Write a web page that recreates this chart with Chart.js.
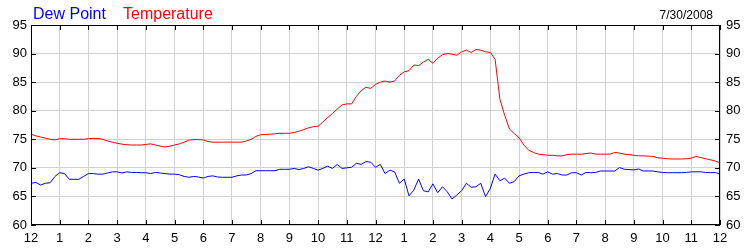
<!DOCTYPE html>
<html>
<head>
<meta charset="utf-8">
<script src="https://cdn.jsdelivr.net/npm/chart.js@4/dist/chart.umd.min.js"></script>
<style>
  body { margin: 0; background: #fff; }
  canvas { display: block; }
</style>
</head>
<body>
<canvas id="chart" width="750" height="250"></canvas>
<script>
// hour labels along the bottom (midnight to midnight)
const hourLabels = ["12", "1", "2", "3", "4", "5", "6", "7", "8", "9", "10", "11",
  "12", "1", "2", "3", "4", "5", "6", "7", "8", "9", "10", "11", "12"];
const yTicks = [60, 65, 70, 75, 80, 85, 90, 95];

// sample times, minutes after midnight
const minutes = [
  0, 10, 20, 30, 40, 50, 60, 70, 80, 90, 100, 110,
  120, 130, 140, 150, 160, 170, 180, 190, 200, 210, 220, 230,
  240, 250, 260, 270, 280, 290, 300, 310, 320, 330, 340, 350,
  360, 370, 380, 390, 400, 410, 420, 430, 440, 450, 460, 470,
  480, 490, 500, 510, 520, 530, 540, 550, 560, 570, 580, 590,
  600, 610, 620, 630, 640, 650, 660, 670, 680, 690, 700, 710,
  720, 730, 740, 750, 760, 770, 780, 790, 800, 810, 820, 830,
  840, 850, 860, 870, 880, 890, 900, 910, 920, 930, 940, 950,
  960, 970, 980, 990, 1000, 1010, 1020, 1030, 1040, 1050, 1060, 1070,
  1080, 1090, 1100, 1110, 1120, 1130, 1140, 1150, 1160, 1170, 1180, 1190,
  1200, 1210, 1220, 1230, 1240, 1250, 1260, 1270, 1280, 1290, 1300, 1310,
  1320, 1330, 1340, 1350, 1360, 1370, 1380, 1390, 1400, 1410, 1420, 1430,
  1440
];

const temperature = [
  75.9, 75.6, 75.4, 75.2, 75.0, 74.9,
  75.1, 75.1, 75.0, 75.0, 75.0, 75.0,
  75.1, 75.15, 75.15, 75.0, 74.7, 74.5,
  74.3, 74.15, 74.05, 74.0, 74.0, 74.0,
  74.1, 74.2, 74.0, 73.8, 73.65, 73.8,
  74.0, 74.2, 74.5, 74.85, 74.95, 74.95,
  74.9, 74.6, 74.5, 74.5, 74.5, 74.5,
  74.5, 74.5, 74.5, 74.7, 75.0, 75.5,
  75.8, 75.85, 75.9, 75.95, 76.05, 76.05,
  76.05, 76.2, 76.4, 76.7, 77.0, 77.2,
  77.3, 78.0, 78.8, 79.5, 80.3, 81.0,
  81.2, 81.2, 82.5, 83.5, 84.1, 83.9,
  84.6, 85.0, 85.2, 85.0, 85.2, 86.2,
  86.8, 87.0, 88.0, 87.9, 88.5, 89.0,
  88.3, 89.2, 89.8, 90.0, 89.9, 89.7,
  90.3, 90.6, 90.2, 90.7, 90.6, 90.3,
  90.2, 89.0, 82.0, 79.2, 76.8, 76.0,
  75.3, 74.0, 73.1, 72.7, 72.4, 72.3,
  72.2, 72.2, 72.1, 72.1, 72.3, 72.4,
  72.4, 72.4, 72.5, 72.6, 72.4, 72.4,
  72.4, 72.4, 72.7, 72.6, 72.4, 72.3,
  72.2, 72.1, 72.1, 72.05, 72.0, 71.75,
  71.7, 71.6, 71.55, 71.55, 71.55, 71.6,
  71.7, 72.0, 71.8, 71.6, 71.4, 71.2,
  70.9
];

const dewPoint = [
  67.3, 67.45, 67.0, 67.3, 67.4, 68.5,
  69.15, 69.0, 68.0, 68.0, 68.0, 68.5,
  69.0, 69.0, 68.9, 68.9, 69.1, 69.3,
  69.3, 69.1, 69.3, 69.2, 69.2, 69.15,
  69.15, 69.0, 69.2, 69.1, 69.0, 68.9,
  68.9, 68.8, 68.5, 68.35, 68.5, 68.4,
  68.2, 68.5, 68.6, 68.4, 68.35, 68.35,
  68.35, 68.6, 68.75, 68.75, 69.0, 69.5,
  69.5, 69.5, 69.5, 69.5, 69.75, 69.75,
  69.75, 69.9, 69.7, 69.9, 70.2, 69.9,
  69.6, 69.9, 70.3, 69.9, 70.6, 69.9,
  70.0, 70.1, 70.8, 70.6, 71.1, 71.0,
  70.1, 70.6, 69.0, 69.6, 69.3, 67.3,
  68.05, 65.1, 66.1, 68.05, 66.0, 65.8,
  67.2, 65.65, 66.7, 65.8, 64.55, 65.25,
  66.0, 67.3, 66.6, 66.7, 67.3, 64.95,
  66.4, 68.9, 67.75, 68.2, 67.3, 67.6,
  68.6, 68.9, 69.15, 69.2, 69.2, 68.9,
  69.3, 68.9, 69.0, 68.75, 68.75, 69.15,
  69.15, 68.75, 69.2, 69.15, 69.2, 69.45,
  69.45, 69.45, 69.45, 70.05, 69.75, 69.7,
  69.65, 69.8, 69.45, 69.45, 69.45, 69.3,
  69.2, 69.15, 69.15, 69.15, 69.15, 69.2,
  69.3, 69.3, 69.3, 69.2, 69.15, 69.2,
  68.9
];

const dateText = "7/30/2008";
const fontFamily = '"Liberation Sans", Arial, sans-serif';

// frame, inward tick marks and the header texts
const framePlugin = {
  id: "frame",
  afterDraw(chart) {
    const ctx = chart.ctx;
    const a = chart.chartArea;
    const xs = chart.scales.x;
    const ys = chart.scales.y;
    ctx.save();
    ctx.strokeStyle = "#000";
    ctx.lineWidth = 1;
    ctx.strokeRect(a.left + 0.5, a.top + 0.5, a.right - a.left - 1, a.bottom - a.top - 1);
    ctx.beginPath();
    for (let i = 0; i < hourLabels.length; i++) {
      const px = Math.round(xs.getPixelForValue(i * 60)) + 0.5;
      ctx.moveTo(px, a.top);
      ctx.lineTo(px, a.top + 5);
      ctx.moveTo(px, a.bottom);
      ctx.lineTo(px, a.bottom - 5);
    }
    yTicks.forEach((v) => {
      const py = Math.round(ys.getPixelForValue(v)) + 0.5;
      ctx.moveTo(a.left, py);
      ctx.lineTo(a.left + 5, py);
      ctx.moveTo(a.right, py);
      ctx.lineTo(a.right - 5, py);
    });
    ctx.stroke();

    ctx.font = "16px " + fontFamily;
    ctx.textBaseline = "alphabetic";
    ctx.textAlign = "left";
    ctx.fillStyle = "#0000ff";
    ctx.fillText("Dew Point", 33, 19);
    ctx.fillStyle = "#ff0000";
    ctx.fillText("Temperature", 123, 19);
    ctx.font = "12px " + fontFamily;
    ctx.fillStyle = "#000";
    ctx.textAlign = "right";
    ctx.fillText(dateText, 713, 19);
    ctx.restore();
  },
};

const tickFont = { family: fontFamily, size: 13 };

new Chart(document.getElementById("chart"), {
  type: "line",
  data: {
    datasets: [
      {
        label: "Temperature",
        data: minutes.map((m, i) => ({ x: m, y: temperature[i] })),
        borderColor: "#ff0000",
        borderWidth: 1,
        pointRadius: 0,
        tension: 0,
        fill: false,
      },
      {
        label: "Dew Point",
        data: minutes.map((m, i) => ({ x: m, y: dewPoint[i] })),
        borderColor: "#0000ff",
        borderWidth: 1,
        pointRadius: 0,
        tension: 0,
        fill: false,
      },
    ],
  },
  options: {
    responsive: false,
    animation: false,
    layout: { padding: { top: 25, left: 0, right: 0, bottom: 0 } },
    plugins: {
      legend: { display: false },
      tooltip: { enabled: false },
    },
    scales: {
      x: {
        type: "linear",
        min: 0,
        max: 1440,
        afterBuildTicks(scale) {
          scale.ticks = hourLabels.map((l, i) => ({ value: i * 60 }));
        },
        afterFit(scale) {
          scale.height = 25;
        },
        grid: { color: "#d0d0d0", drawTicks: false },
        border: { display: false },
        ticks: {
          autoSkip: false,
          maxRotation: 0,
          padding: 6,
          color: "#000",
          font: tickFont,
          callback: (v) => hourLabels[v / 60],
        },
      },
      y: {
        position: "left",
        min: 60,
        max: 95,
        afterBuildTicks(scale) {
          scale.ticks = yTicks.map((v) => ({ value: v }));
        },
        afterFit(scale) {
          scale.width = 31;
        },
        grid: { color: "#d0d0d0", drawTicks: false },
        border: { display: false },
        ticks: { padding: 4, color: "#000", font: tickFont },
      },
      y2: {
        position: "right",
        min: 60,
        max: 95,
        afterBuildTicks(scale) {
          scale.ticks = yTicks.map((v) => ({ value: v }));
        },
        afterFit(scale) {
          scale.width = 30;
        },
        grid: { display: false, drawTicks: false },
        border: { display: false },
        ticks: { padding: 6, color: "#000", font: tickFont },
      },
    },
  },
  plugins: [framePlugin],
});
</script>
</body>
</html>
